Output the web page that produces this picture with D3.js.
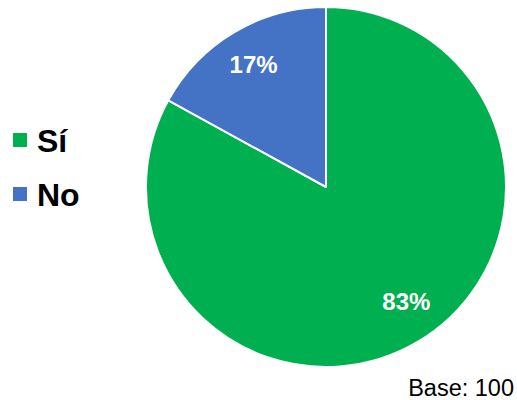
<!DOCTYPE html>
<html>
<head>
    <meta charset="utf-8">
    <title>Sí / No</title>
    <script type="text/javascript" src="https://cdn.jsdelivr.net/npm/d3@7/dist/d3.min.js"></script>
    <style>
        body { margin: 0; background: #fff; }
        svg { display: block; }
    </style>
</head>
<body>
<div class="chart"></div>
<script type="text/javascript">
var width = 517,
    height = 400;

// data
var categories = ['Sí', 'No'];
var values = [83, 17];
var colors = ['#00B050', '#4472C4'];
var baseLabel = 'Base: 100';

var svg = d3.select('.chart')
        .append('svg')
        .attr('width', width)
        .attr('height', height);

// ======================
// pie
// ======================
var cx = 326, cy = 187, radius = 180;

var pie = d3.pie().sort(null).value(function (d) { return d.value; });
var arc = d3.arc().innerRadius(0).outerRadius(radius);
var labelArc = d3.arc().innerRadius(radius * 0.79).outerRadius(radius * 0.79);

var rows = categories.map(function (c, i) {
    return { name: c, value: values[i], color: colors[i] };
});
var total = d3.sum(values);

var g = svg.append('g')
        .attr('transform', 'translate(' + cx + ',' + cy + ')');

g.selectAll('path')
        .data(pie(rows))
        .enter()
        .append('path')
        .attr('d', arc)
        .attr('fill', function (d) { return d.data.color; })
        .attr('stroke', '#fff')
        .attr('stroke-width', 2)
        .attr('stroke-linejoin', 'round');

// small nudge so labels sit where the original has them
var nudge = [[8, -8], [0, 0]];
g.selectAll('text.lbl')
        .data(pie(rows))
        .enter()
        .append('text')
        .classed('lbl', true)
        .attr('transform', function (d, i) {
            var c = labelArc.centroid(d);
            return 'translate(' + (c[0] + nudge[i][0]) + ',' + (c[1] + nudge[i][1]) + ')';
        })
        .attr('dy', '0.36em')
        .attr('text-anchor', 'middle')
        .style('font-family', '"Liberation Sans", Arial, sans-serif')
        .style('font-weight', 'bold')
        .style('font-size', '24px')
        .style('fill', '#fff')
        .text(function (d) { return Math.round(d.data.value / total * 100) + '%'; });

// ======================
// legend
// ======================
var legend = svg.append('g')
        .attr('transform', 'translate(13,133)');

var item = legend.selectAll('g')
        .data(rows)
        .enter()
        .append('g')
        .attr('transform', function (d, i) { return 'translate(0,' + (i * 54) + ')'; });

item.append('rect')
        .attr('width', 14)
        .attr('height', 14)
        .attr('fill', function (d) { return d.color; });

item.append('text')
        .attr('x', 24)
        .attr('y', 19)
        .style('font-family', '"Liberation Sans", Arial, sans-serif')
        .style('font-weight', 'bold')
        .style('font-size', '32px')
        .style('fill', '#000')
        .text(function (d) { return d.name; });

// base note
svg.append('text')
        .attr('x', 514)
        .attr('y', 396)
        .attr('text-anchor', 'end')
        .style('font-family', '"Liberation Sans", Arial, sans-serif')
        .style('font-size', '23.5px')
        .style('fill', '#000')
        .text(baseLabel);
</script>
</body>
</html>
